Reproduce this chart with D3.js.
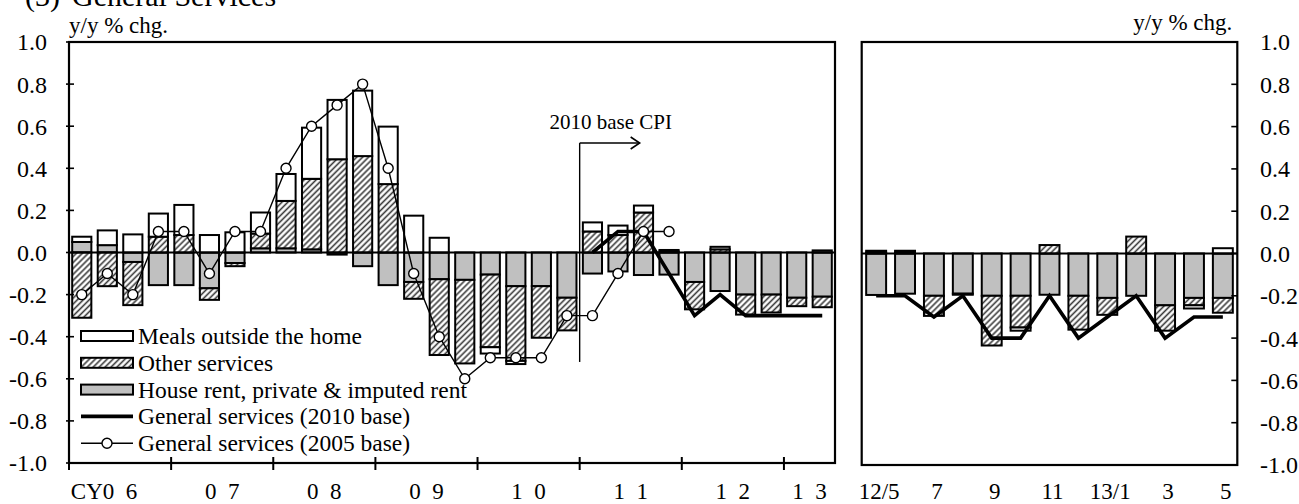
<!DOCTYPE html>
<html><head><meta charset="utf-8">
<script src="https://cdn.jsdelivr.net/npm/d3@7"></script>
<style>
html,body{margin:0;padding:0;background:#fff;}
svg{display:block;font-family:"Liberation Serif","Times New Roman",serif;}
</style></head>
<body><svg id="c" width="1299" height="504"></svg>
<script>
// ---------------- DATA ----------------
const quarters = ["06Q1","06Q2","06Q3","06Q4","07Q1","07Q2","07Q3","07Q4",
  "08Q1","08Q2","08Q3","08Q4","09Q1","09Q2","09Q3","09Q4",
  "10Q1","10Q2","10Q3","10Q4","11Q1","11Q2","11Q3","11Q4",
  "12Q1","12Q2","12Q3","12Q4","13Q1","13Q2"];
const rentQ = [0.05,0.035,-0.045,-0.155,-0.155,-0.17,-0.05,0.02,
  0.02,0.015,-0.01,-0.065,-0.155,-0.14,-0.127,-0.13,
  -0.105,-0.16,-0.16,-0.215,-0.1,-0.09,-0.107,-0.105,
  -0.14,-0.183,-0.2,-0.2,-0.215,-0.21];
const otherQ = [-0.31,-0.16,-0.205,0.075,0.083,-0.055,-0.015,0.07,
  0.225,0.335,0.443,0.458,0.325,-0.08,-0.36,-0.397,
  -0.345,-0.355,-0.245,-0.155,0.1,0.083,0.19,0.005,
  -0.13,0.015,-0.095,-0.085,-0.04,-0.05];
const mealsQ = [0.025,0.07,0.086,0.11,0.143,0.083,0.096,0.10,
  0.128,0.243,0.282,0.311,0.273,0.175,0.07,0,
  -0.03,-0.015,0,0,0.043,0.045,0.033,0.007,
  0,0.012,0,0,0,0.01];
const gen2005Q = [-0.2,-0.1,-0.2,0.1,0.1,-0.1,0.1,0.1,
  0.4,0.6,0.7,0.8,0.4,-0.1,-0.4,-0.6,
  -0.5,-0.5,-0.5,-0.3,-0.3,-0.1,0.1,0.1,
  null,null,null,null,null,null];
const gen2010Q = [null,null,null,null,null,null,null,null,
  null,null,null,null,null,null,null,null,
  null,null,null,null,0.0,0.1,0.1,-0.1,
  -0.3,-0.2,-0.3,-0.3,-0.3,-0.3];
const yearLabels = ["CY0  6","0  7","0  8","0  9","1  0","1  1","1  2","1  3"];

const months = ["12/5","12/6","12/7","12/8","12/9","12/10","12/11","12/12","13/1","13/2","13/3","13/4","13/5"];
const monthLabels = ["12/5","","7","","9","","11","","13/1","","3","","5"];
const rentM = [-0.196,-0.19,-0.2,-0.19,-0.2,-0.2,-0.195,-0.2,-0.21,-0.2,-0.245,-0.21,-0.21];
const otherM = [0.005,0.005,-0.095,-0.005,-0.235,-0.15,0.04,-0.16,-0.08,0.08,-0.12,-0.035,-0.07];
const mealsM = [0.008,0.008,0,0,0,-0.015,0,0,0,0,0,-0.015,0.025];
const gen2010M = [-0.2,-0.2,-0.3,-0.2,-0.4,-0.4,-0.2,-0.4,-0.3,-0.2,-0.4,-0.3,-0.3];

const yTicks = [-1.0,-0.8,-0.6,-0.4,-0.2,0.0,0.2,0.4,0.6,0.8,1.0];
const legendLabels = ["Meals outside the home","Other services","House rent, private & imputed rent",
  "General services (2010 base)","General services (2005 base)"];
const unitLabel = "y/y % chg.";
const annotText = "2010 base CPI";
const titleParts = ["(3)","General Services"];

// ---------------- CHART ----------------
const svg = d3.select("#c");
const defs = svg.append("defs");
const pat = defs.append("pattern").attr("id","hatch").attr("patternUnits","userSpaceOnUse")
  .attr("width",4.2).attr("height",4.2).attr("patternTransform","rotate(45)");
pat.append("rect").attr("width",4.2).attr("height",4.2).attr("fill","#fff");
pat.append("line").attr("x1",2.1).attr("x2",2.1).attr("y1",0).attr("y2",4.2)
  .attr("stroke","#3a3a3a").attr("stroke-width",1.6);

const FILL = {rent:"#c0c0c0", other:"url(#hatch)", meals:"#ffffff"};
const fmt = v => v.toFixed(1);

function panel(cats, rent, other, meals, x, y, bounds) {
  const g = svg.append("g");
  const rows = cats.map((c,i)=>({cat:c, rent:rent[i], other:other[i], meals:meals[i]}));
  const series = d3.stack().keys(["rent","other","meals"]).offset(d3.stackOffsetDiverging)(rows);
  g.selectAll("g.s").data(series).join("g").attr("class","s").attr("fill", d=>FILL[d.key])
    .selectAll("rect").data(d=>d.filter(p=>p[0]!==p[1])).join("rect")
    .attr("x", d=>x(d.data.cat)).attr("width", x.bandwidth())
    .attr("y", d=>y(Math.max(d[0],d[1]))).attr("height", d=>Math.abs(y(d[0])-y(d[1])))
    .attr("stroke","#000").attr("stroke-width",2);
  g.append("line").attr("x1",bounds[0]).attr("x2",bounds[1]).attr("y1",y(0)).attr("y2",y(0))
    .attr("stroke","#000").attr("stroke-width",2.2);
  return g;
}

// Left panel
const L = {x0:69, x1:835, y0:42, y1:463};
const xL = d3.scaleBand().domain(quarters).range([L.x0,L.x1]).paddingInner(0.25).paddingOuter(0.125);
const yL = d3.scaleLinear().domain([-1,1]).range([L.y1,L.y0]);
const stepL = xL.step();
const cxL = c => xL(c) + xL.bandwidth()/2;
const bndL = c => xL(c) - stepL*0.125;

panel(quarters, rentQ, otherQ, mealsQ, xL, yL, [L.x0,L.x1]);

const lineQ = arr => d3.line().defined(d=>d.v!=null).x(d=>cxL(d.c)).y(d=>yL(d.v))(quarters.map((c,i)=>({c, v:arr[i]})));
svg.append("path").attr("d", lineQ(gen2010Q)).attr("fill","none").attr("stroke","#000")
  .attr("stroke-width",3.6).attr("stroke-linejoin","miter");
svg.append("path").attr("d", lineQ(gen2005Q)).attr("fill","none").attr("stroke","#000").attr("stroke-width",1.4);
svg.append("g").selectAll("circle").data(quarters.map((c,i)=>({c,v:gen2005Q[i]})).filter(d=>d.v!=null))
  .join("circle").attr("cx",d=>cxL(d.c)).attr("cy",d=>yL(d.v)).attr("r",5)
  .attr("fill","#fff").attr("stroke","#000").attr("stroke-width",1.4);

svg.append("rect").attr("x",L.x0).attr("y",L.y0).attr("width",L.x1-L.x0).attr("height",L.y1-L.y0)
  .attr("fill","none").attr("stroke","#000").attr("stroke-width",2.2);

const gyl = svg.append("g");
yTicks.forEach(t=>{
  gyl.append("line").attr("x1",L.x0-3).attr("x2",L.x0+5).attr("y1",yL(t)).attr("y2",yL(t)).attr("stroke","#000").attr("stroke-width",1.6);
  gyl.append("text").attr("x",47).attr("y",yL(t)).attr("dy","0.35em").attr("text-anchor","end")
    .attr("font-size",24).text(fmt(t));
});
svg.append("text").attr("x",L.x0).attr("y",33).attr("font-size",23).text(unitLabel);

const XLAB_Y = 498.5, XLAB_FS = 23;
const years = d3.groups(quarters, q=>q.slice(0,2));
years.forEach(([yr, qs], k)=>{
  const bx = bndL(qs[0]);
  svg.append("line").attr("x1",bx).attr("x2",bx).attr("y1",L.y1-6).attr("y2",L.y1+7).attr("stroke","#000").attr("stroke-width",2);
  const cx = d3.mean(qs, q=>cxL(q));
  const t = svg.append("text").attr("y",XLAB_Y).attr("font-size",XLAB_FS).style("white-space","pre")
    .attr("xml:space","preserve").text(yearLabels[k]);
  if (k===0) {
    const tmp = svg.append("text").attr("font-size",XLAB_FS).style("white-space","pre").attr("xml:space","preserve").text("0  6");
    const w = tmp.node().getComputedTextLength(); tmp.remove();
    t.attr("text-anchor","end").attr("x", cx + w/2);
  } else {
    t.attr("text-anchor","middle").attr("x", cx);
  }
});

// Annotation
const ax = bndL("11Q1");
svg.append("line").attr("x1",ax).attr("x2",ax).attr("y1",yL(0.52)).attr("y2",yL(-0.52)).attr("stroke","#000").attr("stroke-width",1.4);
svg.append("line").attr("x1",ax).attr("x2",ax+60).attr("y1",yL(0.52)).attr("y2",yL(0.52)).attr("stroke","#000").attr("stroke-width",1.4);
svg.append("path").attr("d",`M${ax+51},${yL(0.52)-6}L${ax+60},${yL(0.52)}L${ax+51},${yL(0.52)+6}`)
  .attr("fill","none").attr("stroke","#000").attr("stroke-width",1.6);
svg.append("text").attr("x",ax+31).attr("y",yL(0.587)).attr("text-anchor","middle").attr("font-size",21).text(annotText);

// Legend
const lg = svg.append("g");
const legY = k => 336 + 26.8*k;
const swX = 81, swW = 52;
legendLabels.forEach((lab,k)=>{
  const cy = legY(k);
  if (k<3) {
    const key = ["meals","other","rent"][k];
    lg.append("rect").attr("x",swX).attr("y",cy-5).attr("width",swW).attr("height",10)
      .attr("fill",FILL[key]).attr("stroke","#000").attr("stroke-width",2);
  } else if (k===3) {
    lg.append("line").attr("x1",swX).attr("x2",swX+swW).attr("y1",cy).attr("y2",cy).attr("stroke","#000").attr("stroke-width",3.6);
  } else {
    lg.append("line").attr("x1",swX).attr("x2",swX+swW).attr("y1",cy).attr("y2",cy).attr("stroke","#000").attr("stroke-width",1.4);
    lg.append("circle").attr("cx",swX+swW/2).attr("cy",cy).attr("r",5).attr("fill","#fff").attr("stroke","#000").attr("stroke-width",1.4);
  }
  lg.append("text").attr("x",138).attr("y",cy+8).attr("font-size",23.5).text(lab);
});

// Right panel
const R = {x0:861.7, x1:1237.3, y0:42, y1:465};
const xR = d3.scaleBand().domain(months).range([R.x0,R.x1]).paddingInner(0.31).paddingOuter(0.155);
const yR = d3.scaleLinear().domain([-1,1]).range([R.y1,R.y0]);
const cxR = c => xR(c) + xR.bandwidth()/2;
panel(months, rentM, otherM, mealsM, xR, yR, [R.x0,R.x1]);
svg.append("path").attr("d", d3.line().x(d=>cxR(d.c)).y(d=>yR(d.v))(months.map((c,i)=>({c,v:gen2010M[i]}))))
  .attr("fill","none").attr("stroke","#000").attr("stroke-width",3.6).attr("stroke-linejoin","miter");
svg.append("rect").attr("x",R.x0).attr("y",R.y0).attr("width",R.x1-R.x0).attr("height",R.y1-R.y0)
  .attr("fill","none").attr("stroke","#000").attr("stroke-width",2.2);
yTicks.forEach(t=>{
  svg.append("line").attr("x1",R.x1-6).attr("x2",R.x1).attr("y1",yR(t)).attr("y2",yR(t)).attr("stroke","#000").attr("stroke-width",1.6);
  svg.append("text").attr("x",1260).attr("y",yR(t)).attr("dy","0.35em").attr("text-anchor","start")
    .attr("font-size",24).text(fmt(t));
});
svg.append("text").attr("x",R.x1-5).attr("y",29.5).attr("text-anchor","end").attr("font-size",23).text(unitLabel);
months.forEach((m,i)=>{
  if (monthLabels[i]) svg.append("text").attr("x",cxR(m)+3).attr("y",XLAB_Y).attr("text-anchor","middle")
    .attr("font-size",XLAB_FS).text(monthLabels[i]);
});

// Title (cut off at the top edge, as in the reference)
const tt = svg.append("text").attr("y",6).attr("font-size",30).style("white-space","pre");
tt.append("tspan").attr("x",25).text(titleParts[0]);
tt.append("tspan").attr("x",72).text(titleParts[1]);
</script>
</body></html>
